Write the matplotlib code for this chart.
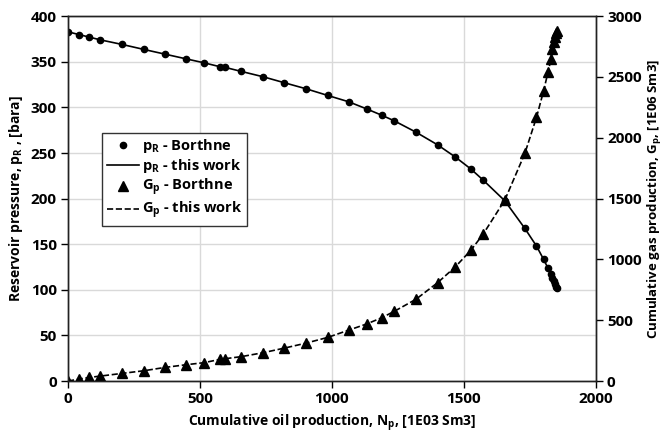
import matplotlib
matplotlib.use('Agg')
import matplotlib.pyplot as plt

# Borthne data points
np_oil = [0, 41, 81, 123, 205, 288, 367, 446, 515, 577, 596, 657, 739, 820,
          902, 984, 1064, 1131, 1188, 1236, 1318, 1400, 1468, 1527, 1573,
          1655, 1731, 1775, 1802, 1819, 1830, 1835, 1840, 1845, 1850, 1852]
p_res = [382.8, 379.9, 377.0, 374.0, 369.0, 363.5, 358.4, 353.3, 348.9,
         344.5, 343.8, 339.4, 333.6, 327.0, 320.4, 313.1, 306.1, 298.4,
         291.5, 285.3, 272.9, 259.0, 245.5, 232.3, 220.3, 197.6, 167.3,
         148.0, 133.4, 123.5, 116.9, 112.5, 109.6, 106.3, 103.4, 101.6]
g_prod = [0, 16, 30, 41, 63, 85, 112, 134, 151, 179, 184, 201, 233, 271, 312,
          359, 419, 469, 520, 573, 672, 808, 940, 1077, 1208, 1488, 1872, 2168,
          2386, 2543, 2647, 2729, 2784, 2825, 2858, 2880]

FONT = 'Open Sans'
plt.rcParams['font.family'] = FONT
plt.rcParams['font.weight'] = 'bold'
plt.rcParams['mathtext.fontset'] = 'custom'
plt.rcParams['mathtext.rm'] = FONT + ':bold'
plt.rcParams['mathtext.it'] = FONT + ':bold'
plt.rcParams['mathtext.bf'] = FONT + ':bold'

fig = plt.figure(figsize=(6.64, 4.37), dpi=100)
ax = fig.add_axes([0.1024, 0.128, 0.795, 0.835])
ax2 = ax.twinx()

l1, = ax.plot(np_oil, p_res, 'o', color='black', markersize=4.5,
              label=r'p$_\mathrm{R}$ - Borthne')
l2, = ax.plot(np_oil, p_res, '-', color='black', linewidth=1.2,
              label=r'p$_\mathrm{R}$ - this work')
l3, = ax2.plot(np_oil, g_prod, '^', color='black', markersize=6.5,
               label=r'G$_\mathrm{p}$ - Borthne')
l4, = ax2.plot(np_oil, g_prod, '--', color='black', linewidth=1.2,
               label=r'G$_\mathrm{p}$ - this work')

ax.set_xlim(0, 2000)
ax.set_ylim(0, 400)
ax2.set_ylim(0, 3000)
ax.set_xticks(range(0, 2001, 500))
ax.set_yticks(range(0, 401, 50))
ax2.set_yticks(range(0, 3001, 500))
ax.grid(True, color='#d9d9d9', linewidth=1)
ax.set_axisbelow(True)

for a in (ax, ax2):
    a.tick_params(labelsize=11, direction='out', length=5, width=1, pad=3)
    for lab in a.get_xticklabels() + a.get_yticklabels():
        lab.set_fontweight('bold')
    for s in a.spines.values():
        s.set_linewidth(1)
        s.set_color('#222222')

ax.set_xlabel(r'Cumulative oil production, N$_\mathrm{p}$, [1E03 Sm3]',
              fontsize=10, fontweight='bold', labelpad=5)
ax.set_ylabel(r'Reservoir pressure, p$_\mathrm{R}$ , [bara]',
              fontsize=10, fontweight='bold', labelpad=4)
ax2.set_ylabel(r'Cumulative gas production, G$_\mathrm{p}$, [1E06 Sm3]',
               fontsize=9.5, fontweight='bold', labelpad=3)

leg = ax.legend(handles=[l1, l2, l3, l4], loc='upper left',
                bbox_to_anchor=(0.065, 0.68), frameon=True,
                fancybox=False, edgecolor='#333333', handlelength=2.2,
                handletextpad=0.2, borderpad=0.3, labelspacing=0.12,
                borderaxespad=0, prop={'weight': 'bold', 'size': 10.5})
leg.get_frame().set_linewidth(1)
leg.get_frame().set_alpha(1)

fig.savefig('out.png', dpi=100)
